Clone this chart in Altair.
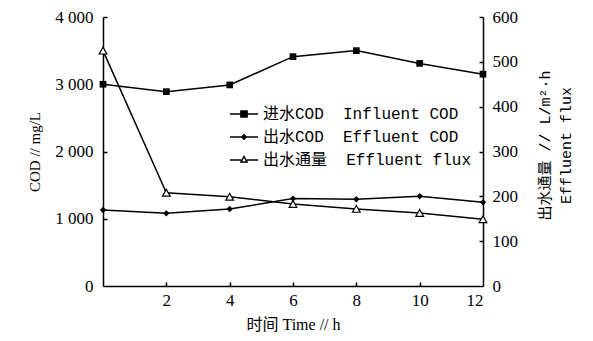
import altair as alt
import pandas as pd

times = [0, 2, 4, 6, 8, 10, 12]
influent_cod = [3000, 2890, 2990, 3410, 3500, 3310, 3150]
effluent_cod = [1130, 1080, 1145, 1300, 1290, 1335, 1245]
effluent_flux = [525, 208, 199, 183, 172, 163, 149]

NBSP = "\u00a0"
INF = "进水COD" + NBSP * 2 + "Influent COD"
EFF = "出水COD" + NBSP * 2 + "Effluent COD"
FLX = "出水通量" + NBSP * 2 + "Effluent flux"
series_names = [INF, EFF, FLX]

cod_df = pd.DataFrame(
    {"time": times * 2,
     "series": [INF] * len(times) + [EFF] * len(times),
     "value": influent_cod + effluent_cod}
)
flux_df = pd.DataFrame({"time": times, "series": [FLX] * len(times), "value": effluent_flux})
legend_df = pd.DataFrame({"series": series_names})

W, H = 380, 269
SERIF = "Liberation Serif, Noto Sans CJK SC"
MONO = "Liberation Mono, Noto Sans CJK SC"

xscale = alt.Scale(domain=[0, 12], nice=False, zero=False)
cod_scale = alt.Scale(domain=[0, 4000], nice=False)
flux_scale = alt.Scale(domain=[0, 600], nice=False)

X_main = alt.X(
    "time:Q", scale=xscale,
    axis=alt.Axis(orient="bottom", values=[2, 4, 6, 8, 10, 12], ticks=False, tickSize=0,
                  domain=True, domainColor="black", domainWidth=1.5, grid=False,
                  labelFont=SERIF, labelFontSize=17, labelColor="black", labelPadding=6,
                  title="时间 Time // h", titleFont=SERIF, titleFontSize=16,
                  titleFontWeight="normal", titleColor="black", titlePadding=8),
)
X_none = alt.X("time:Q", scale=xscale, axis=None)
X_ticks = alt.X(
    "time:Q", scale=xscale,
    axis=alt.Axis(orient="top", offset=-H, values=[2, 4, 6, 8, 10], labels=False,
                  domain=False, ticks=True, tickSize=4, tickColor="black", tickWidth=1.5,
                  grid=False, title=None),
)

Y_cod = alt.Y(
    "value:Q", scale=cod_scale,
    axis=alt.Axis(orient="left", values=[0, 1000, 2000, 3000, 4000],
                  labelExpr="replace(format(datum.value, ','), ',', ' ')",
                  ticks=False, tickSize=0, domain=True, domainColor="black", domainWidth=1.5,
                  grid=False, labelFont=SERIF, labelFontSize=17, labelColor="black",
                  labelPadding=10, title="COD // mg/L", titleFont=SERIF, titleFontSize=15,
                  titleFontWeight="normal", titleColor="black", titlePadding=12),
)
Y_cod_ticks = alt.Y(
    "value:Q", scale=cod_scale,
    axis=alt.Axis(orient="right", offset=-W, values=[1000, 2000, 3000, 4000], labels=False,
                  domain=False, ticks=True, tickSize=4, tickColor="black", tickWidth=1.5,
                  grid=False, title=None),
)
Y_flux = alt.Y(
    "value:Q", scale=flux_scale,
    axis=alt.Axis(orient="right", values=[0, 100, 200, 300, 400, 500, 600],
                  ticks=False, tickSize=0, domain=True, domainColor="black", domainWidth=1.5,
                  grid=False, labelFont=SERIF, labelFontSize=17, labelColor="black",
                  labelPadding=9, title=["出水通量 // L/m²·h", "Effluent flux"],
                  titleFont=MONO, titleFontSize=15, titleFontWeight="normal",
                  titleColor="black", titleAngle=270, titlePadding=14, titleLineHeight=21,
                  titleY=128),
)
Y_flux_ticks = alt.Y(
    "value:Q", scale=flux_scale,
    axis=alt.Axis(orient="left", offset=-W, values=[100, 200, 300, 400, 500, 600], labels=False,
                  domain=False, ticks=True, tickSize=4, tickColor="black", tickWidth=1.5,
                  grid=False, title=None),
)

base_cod = alt.Chart(cod_df).encode(x=X_main, y=Y_cod)
line_cod = base_cod.mark_line(color="black", strokeWidth=1.5).encode(detail="series:N")
pts_inf = base_cod.transform_filter(alt.datum.series == INF).mark_point(
    shape="square", filled=True, color="black", size=45, opacity=1)
pts_eff = base_cod.transform_filter(alt.datum.series == EFF).mark_point(
    shape="diamond", filled=True, color="black", size=40, opacity=1)

paths = [
    "M-1,0L1,0M-0.22,-0.22L0.22,-0.22L0.22,0.22L-0.22,0.22Z",
    "M-1,0L1,0M0,-0.16L0.16,0L0,0.16L-0.16,0Z",
    "M-1,0L-0.2,0M0.2,0L1,0M0,-0.25L0.22,0.15L-0.22,0.15Z",
]
leg = alt.Legend(title=None, orient="none", legendX=126, legendY=82,
                 symbolSize=784, symbolStrokeColor="black",
                 symbolStrokeWidth=1.5, symbolOpacity=1,
                 labelFont=MONO, labelFontSize=16, labelColor="black",
                 rowPadding=-2, labelOffset=4, labelLimit=400)
legend_layer = alt.Chart(legend_df).mark_point(opacity=0, filled=False).encode(
    shape=alt.Shape("series:N", scale=alt.Scale(domain=series_names, range=paths), legend=leg),
    fill=alt.Fill("series:N", scale=alt.Scale(domain=series_names,
                                              range=["black", "black", "white"]), legend=leg),
    stroke=alt.Stroke("series:N", scale=alt.Scale(domain=series_names,
                                                  range=["black", "black", "black"]), legend=leg),
)
L1 = alt.layer(line_cod, pts_inf, pts_eff, legend_layer)

base_flux = alt.Chart(flux_df).encode(x=X_none, y=Y_flux)
line_flux = base_flux.mark_line(color="black", strokeWidth=1.5)
pts_flux = base_flux.mark_point(shape="triangle-up", fill="white", stroke="black",
                                strokeWidth=1.2, size=60, opacity=1)
L2 = alt.layer(line_flux, pts_flux)

L3 = alt.Chart(cod_df).mark_point(opacity=0).encode(x=X_ticks, y=Y_cod_ticks)
L4 = alt.Chart(flux_df).mark_point(opacity=0).encode(x=X_none, y=Y_flux_ticks)

chart = (
    alt.layer(L1, L2, L3, L4)
    .resolve_scale(y="independent")
    .resolve_axis(x="independent", y="independent")
    .properties(width=W, height=H, background="white",
                autosize=alt.AutoSizeParams(type="none"),
                padding={"left": 103, "top": 17, "right": 110, "bottom": 55})
    .configure_view(stroke=None)
)

chart.save("out.html", embed_options={"renderer": "svg", "actions": False})
